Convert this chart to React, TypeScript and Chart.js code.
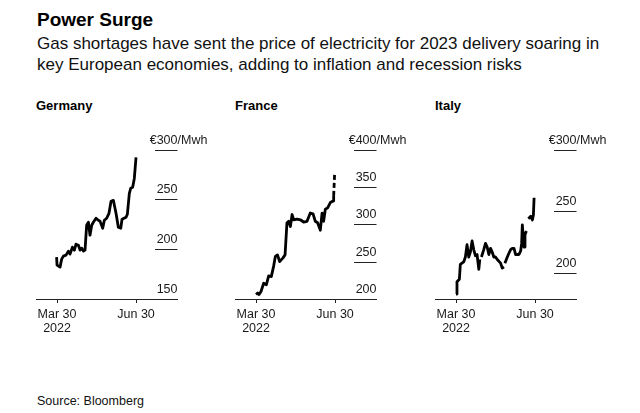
import React, { useEffect, useRef } from "react";
import { Chart, registerables } from "chart.js";

Chart.register(...registerables);

const FONT = '"Liberation Sans", Arial, Helvetica, sans-serif';

const TITLE = "Power Surge";
const SUBTITLE_LINES = [
  "Gas shortages have sent the price of electricity for 2023 delivery soaring in",
  "key European economies, adding to inflation and recession risks",
];
const SOURCE = "Source: Bloomberg";

// x values are days since Mar 30, 2022
const X_TICKS = [0, 92];
const X_TICK_LABELS: (string | string[])[] = [["Mar 30", "2022"], "Jun 30"];
const X_MIN = -24.5;
const X_MAX = 140.3;

const UNIT_PREFIX = "€";
const UNIT_SUFFIX = "/Mwh";

// Germany
const GER_DAYS = [-0.5, 0, 3.5, 5.4, 7.4, 10.5, 13.2, 15.1, 17.9, 20.2, 22.1, 24.9, 26.8, 28.7, 30.7, 32.6, 34.5, 36.5, 38.4, 40.4, 42.3, 45.4, 48.1, 50.1, 53.2, 55.1, 57.8, 60.5, 62.9, 65.6, 68.7, 71.4, 74.2, 75.7, 78.0, 80.4, 81.9, 84.2, 85.8, 88.1, 90.0, 92.0];
const GER_VALUES = [192, 184, 182, 190, 193, 194, 198, 195, 202, 199, 205, 204, 199, 201, 198, 199, 224, 227, 214, 224, 227, 231, 229, 228, 221, 229, 231, 236, 248, 249, 236, 222, 221, 230, 231, 232, 235, 256, 261, 262, 271, 292];
const GER_Y_TICKS = [150, 200, 250, 300];

// France
const FRA_DAYS = [0, 1.9, 3.5, 5.8, 8.9, 12, 14.7, 17.8, 20.5, 22.5, 25, 27.5, 31.4, 33.8, 36, 38, 40, 42, 43.8, 47.7, 51.6, 55.4, 59.4, 63.2, 66.4, 69, 71.7, 74.9, 76.9, 78.7, 80.7, 83.4, 86.5, 89.7, 90.4, 91.5];
const FRA_VALUES = [206, 208, 206, 210, 221, 219, 231, 230, 244, 257, 259, 250, 255, 259, 302, 304, 297, 313, 306, 307, 306, 303, 304, 315, 314, 304, 302, 292, 315, 304, 320, 322, 329, 331, 338, 367];
const FRA_DASH_FROM = 34; // segment index where the dashed tail starts
const FRA_Y_TICKS = [200, 250, 300, 350, 400];

// Italy (null = gap in the series)
const ITA_DAYS = [0, 1.1, 3.9, 5, 8.9, 10.9, 12.8, 14.8, 16.7, 18.7, 20.6, 22.6, 24.5, 26.5, 27.7, 28.6, 29.6, 32.3, 34.3, 36.3, 38.2, 40.2, 42.1, 44, 46, 48, 51.9, 53.8, 55.8, 56.4, 56.9, 59.7, 61.6, 63.6, 65.5, 67.5, 69.4, 71.4, 73.3, 75.3, 76.4, 77.2, 79.2, 80.3, 81.9, 83, 84.2, 87, 88.9, 90.1, 90.9];
const ITA_VALUES: (number | null)[] = [183, 193, 195, 207, 209, 213, 223, 213, 217, 226, 219, 214, 215, 203, 211, null, 213, 219, 224, 221, 215, 220, 217, 213, 213, 211, 208, 204, 205, null, 208, 213, 216, 219, 220, 220, 215, 215, 215, 218, 224, 239, 221, 231, 234, null, 244, 246, 243, 247, 261];
const ITA_Y_TICKS = [200, 250, 300];

const gridLabelPlugin = {
  id: "gridLabels",
  afterDraw(chart: any, _args: any, opts: any) {
    const { ctx, chartArea, scales } = chart;
    const y = scales.y;
    const ticks: number[] = opts.ticks || [];
    const right = chartArea.right;
    const left = right - 22.5;
    ctx.save();
    ctx.strokeStyle = "#222";
    ctx.lineWidth = 1;
    ctx.font = `12.5px ${FONT}`;
    ctx.fillStyle = "#1a1a1a";
    ctx.textBaseline = "alphabetic";
    ticks.forEach((t, i) => {
      const py = Math.round(y.getPixelForValue(t)) + 0.5;
      ctx.beginPath();
      ctx.moveTo(left, py);
      ctx.lineTo(right, py);
      ctx.stroke();
      const label = String(t);
      ctx.textAlign = "right";
      ctx.fillText(label, right, py - 6.5);
      if (i === ticks.length - 1) {
        const w = ctx.measureText(label).width;
        ctx.fillText(UNIT_PREFIX, right - w, py - 6.5);
        ctx.textAlign = "left";
        ctx.fillText(UNIT_SUFFIX, right, py - 6.5);
      }
    });
    ctx.restore();
  },
};

type PanelProps = {
  left: number;
  title: string;
  days: number[];
  values: (number | null)[];
  yMin: number;
  yMax: number;
  yTicks: number[];
  dashFrom?: number;
};

const CANVAS_W = 195;
const CANVAS_H = 220;
const CANVAS_TOP = 125;

function Panel({ left, title, days, values, yMin, yMax, yTicks, dashFrom }: PanelProps) {
  const ref = useRef<HTMLCanvasElement | null>(null);
  useEffect(() => {
    if (!ref.current) return;
    const data = days.map((d, i) => ({ x: d, y: values[i] }));
    const chart = new Chart(ref.current, {
      type: "line",
      data: {
        datasets: [
          {
            data: data as any,
            borderColor: "#000",
            borderWidth: 2.8,
            pointRadius: 0,
            tension: 0,
            spanGaps: false,
            borderJoinStyle: "round",
            segment: {
              borderDash: (c: any) =>
                dashFrom !== undefined && c.p0DataIndex >= dashFrom ? [5, 3] : undefined,
            },
          } as any,
        ],
      },
      options: {
        responsive: false,
        animation: false,
        devicePixelRatio: 1,
        layout: { padding: { left: 6, right: 47.5, top: 24.5, bottom: 6 } },
        plugins: {
          legend: { display: false },
          tooltip: { enabled: false },
          gridLabels: { ticks: yTicks },
        } as any,
        scales: {
          x: {
            type: "linear",
            min: X_MIN,
            max: X_MAX,
            afterBuildTicks: (s: any) => {
              s.ticks = X_TICKS.map((v) => ({ value: v }));
            },
            afterFit: (s: any) => {
              s.height = 40;
            },
            grid: {
              display: true,
              drawOnChartArea: false,
              drawTicks: true,
              tickLength: 4,
              color: "#222",
              lineWidth: 1,
            },
            border: { display: true, color: "#222", width: 1 },
            ticks: {
              autoSkip: false,
              maxRotation: 0,
              minRotation: 0,
              padding: 5,
              color: "#1a1a1a",
              font: { family: FONT, size: 12.5, lineHeight: 1.12 },
              callback: (v: any) => {
                const i = X_TICKS.indexOf(Number(v));
                return i >= 0 ? X_TICK_LABELS[i] : "";
              },
            },
          },
          y: { type: "linear", display: false, min: yMin, max: yMax },
        },
      } as any,
      plugins: [gridLabelPlugin],
    });
    return () => chart.destroy();
  }, []);
  return (
    <>
      <div
        style={{
          position: "absolute",
          left: left + 6,
          top: 98,
          fontFamily: FONT,
          fontWeight: "bold",
          fontSize: 13,
          lineHeight: "15px",
          color: "#000",
          whiteSpace: "nowrap",
        }}
      >
        {title}
      </div>
      <canvas
        ref={ref}
        width={CANVAS_W}
        height={CANVAS_H}
        style={{ position: "absolute", left, top: CANVAS_TOP, width: CANVAS_W, height: CANVAS_H, display: "block" }}
      />
    </>
  );
}

export default function App() {
  return (
    <div
      style={{
        position: "absolute",
        left: 0,
        top: 0,
        width: 640,
        height: 413,
        background: "#fff",
        fontFamily: FONT,
        color: "#000",
        overflow: "hidden",
      }}
    >
      <div style={{ position: "absolute", left: 37, top: 8.5, fontSize: 19, fontWeight: "bold", lineHeight: "22px", whiteSpace: "nowrap" }}>
        {TITLE}
      </div>
      <div style={{ position: "absolute", left: 37, top: 32.5, fontSize: 17, lineHeight: "21px", whiteSpace: "nowrap", color: "#111" }}>
        {SUBTITLE_LINES[0]}
        <br />
        {SUBTITLE_LINES[1]}
      </div>
      <Panel left={30} title="Germany" days={GER_DAYS} values={GER_VALUES} yMin={150} yMax={300} yTicks={GER_Y_TICKS} />
      <Panel left={229} title="France" days={FRA_DAYS} values={FRA_VALUES} yMin={200} yMax={400} yTicks={FRA_Y_TICKS} dashFrom={FRA_DASH_FROM} />
      <Panel left={429} title="Italy" days={ITA_DAYS} values={ITA_VALUES} yMin={179} yMax={300} yTicks={ITA_Y_TICKS} />
      <div style={{ position: "absolute", left: 37, top: 394, fontSize: 12.5, lineHeight: "15px", whiteSpace: "nowrap", color: "#111" }}>
        {SOURCE}
      </div>
    </div>
  );
}
